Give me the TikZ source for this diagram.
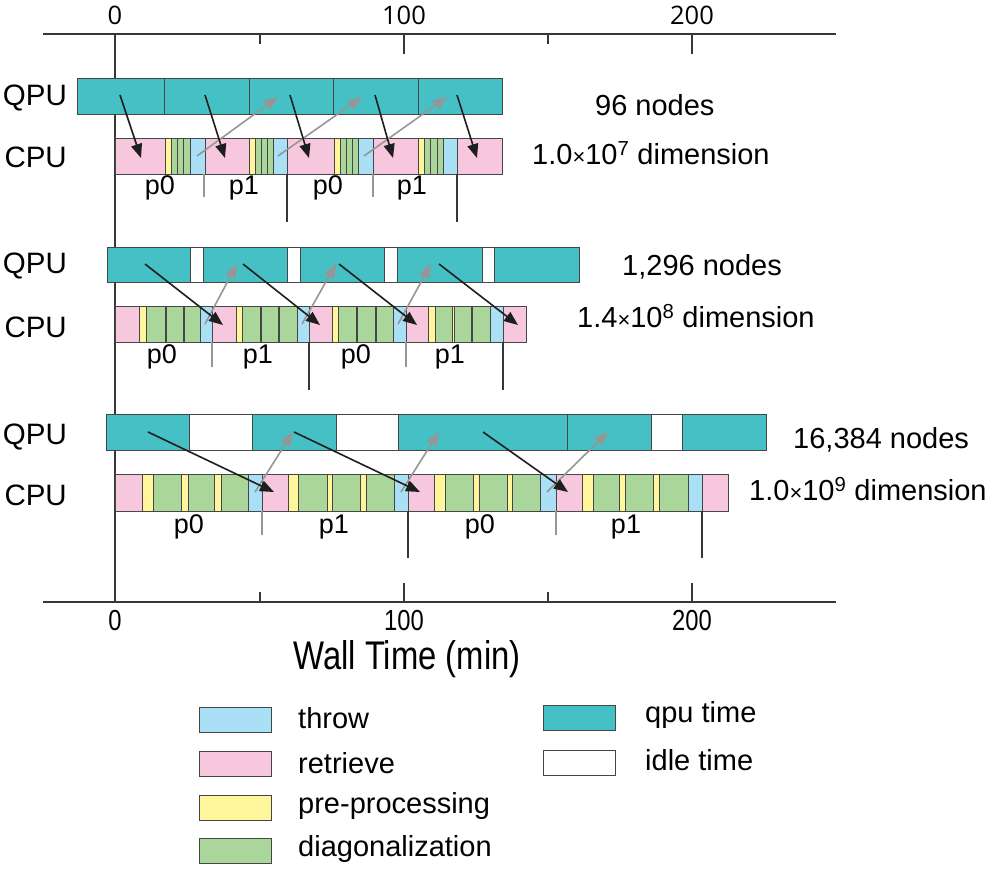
\documentclass[tikz,border=0pt]{standalone}
\usepackage{fontspec}
\setmainfont{Liberation Sans}
\newfontfamily\tickfont{Open Sans}
\newfontfamily\narrowfont[FakeStretch=0.82]{Liberation Sans}
\usetikzlibrary{arrows.meta}
\definecolor{cteal}{RGB}{69,193,198}
\definecolor{cpink}{RGB}{247,200,221}
\definecolor{cblue}{RGB}{170,224,246}
\definecolor{cyel}{RGB}{255,246,155}
\definecolor{cgreen}{RGB}{170,214,155}
\definecolor{cedge}{RGB}{70,70,70}
\definecolor{caxis}{RGB}{55,55,55}
\definecolor{cgray}{RGB}{150,150,150}
\definecolor{cblack}{RGB}{30,30,30}
\newcommand\RA[3]{\draw[#1] (#2,138) rectangle (#3,174);}
\newcommand\RB[3]{\draw[#1] (#2,306) rectangle (#3,342);}
\newcommand\RC[3]{\draw[#1] (#2,474) rectangle (#3,511);}
\newcommand\QA[3]{\draw[#1] (#2,78) rectangle (#3,114);}
\newcommand\QB[3]{\draw[#1] (#2,247) rectangle (#3,282);}
\newcommand\QC[3]{\draw[#1] (#2,414) rectangle (#3,450);}
\newcommand\lbl{\fontsize{27}{32}\selectfont}
\newcommand\tms{{\fontsize{22}{22}\selectfont ×}}
\begin{document}
\begin{tikzpicture}[x=1pt,y=-1pt,
  segthrow/.style={fill=cblue,draw=cedge,line width=1pt},
  segret/.style={fill=cpink,draw=cedge,line width=1pt},
  segpre/.style={fill=cyel,draw=cedge,line width=1pt},
  segdiag/.style={fill=cgreen,draw=cedge,line width=1pt},
  segqpu/.style={fill=cteal,draw=cedge,line width=1pt},
  segidle/.style={fill=white,draw=cedge,line width=1pt},
  axisline/.style={draw=caxis,line width=1.3pt},
  darrow/.style={draw=cblack,line width=1.6pt,-{Triangle[length=14pt,width=11pt]}},
  garrow/.style={draw=cgray,line width=1.6pt,-{Triangle[length=14pt,width=11pt]}},
  gdiv/.style={draw=cgray,line width=1.2pt},
  kdiv/.style={draw=caxis,line width=1.3pt},
  plabel/.style={font=\lbl,inner sep=0pt},
  rowlabel/.style={font=\fontsize{29.5}{34}\selectfont,anchor=east,inner sep=0pt},
  infolabel/.style={font=\fontsize{29}{33}\selectfont,anchor=west,inner sep=0pt},
  toptick/.style={font=\tickfont\fontsize{25.5}{30}\selectfont,inner sep=0pt},
  bottick/.style={font=\narrowfont\fontsize{29}{32}\selectfont,inner sep=0pt},
  legtext/.style={font=\fontsize{29}{33}\selectfont,anchor=west,inner sep=0pt},
]
\useasboundingbox (0,0) rectangle (997,870);

% ---------- axes ----------
\draw[axisline] (43,34) -- (836,34);
\draw[axisline] (43,602) -- (836,602);
\draw[axisline] (115,34) -- (115,602);
\foreach \x in {260,548} {\draw[axisline] (\x,34) -- (\x,44); \draw[axisline] (\x,602) -- (\x,592);}
\foreach \x in {404,692} {\draw[axisline] (\x,34) -- (\x,54); \draw[axisline] (\x,602) -- (\x,583);}
\node[toptick] (t0) at (115,15) {0};
\node[toptick] (t100) at (404,15) {100};
\node[toptick] (t200) at (692,15) {200};
\node[bottick] (b0) at (115,621) {0};
\node[bottick] (b100) at (404,621) {100};
\node[bottick] (b200) at (692,621) {200};
\node[font=\narrowfont\fontsize{40}{44}\selectfont,inner sep=0pt] (xlab) at (407,659) {Wall Time (min)};

% ---------- row 1 ----------
\node[rowlabel] (q1) at (67,98) {QPU};
\node[rowlabel] (c1) at (67,157) {CPU};
\QA{segqpu}{77}{164}\QA{segqpu}{164}{249}\QA{segqpu}{249}{333}\QA{segqpu}{333}{418}\QA{segqpu}{418}{502}
\RA{segret}{115}{165}\RA{segpre}{165}{171}\RA{segdiag}{171}{177}\RA{segdiag}{177}{183}\RA{segdiag}{183}{190}\RA{segthrow}{190}{205}
\RA{segret}{205}{249}\RA{segpre}{249}{255}\RA{segdiag}{255}{261}\RA{segdiag}{261}{267}\RA{segdiag}{267}{273}\RA{segthrow}{273}{287}
\RA{segret}{287}{334}\RA{segpre}{334}{340}\RA{segdiag}{340}{346}\RA{segdiag}{346}{352}\RA{segdiag}{352}{358}\RA{segthrow}{358}{373}
\RA{segret}{373}{418}\RA{segpre}{418}{424}\RA{segdiag}{424}{430}\RA{segdiag}{430}{437}\RA{segdiag}{437}{443}\RA{segthrow}{443}{457}
\RA{segret}{457}{502}
\draw[gdiv] (204,174) -- (204,197);
\draw[gdiv] (373,174) -- (373,197);
\draw[kdiv] (287,174) -- (287,222);
\draw[kdiv] (457,174) -- (457,222);
\node[plabel] (p1a) at (160,188) {p0};
\node[plabel] (p1b) at (244,188) {p1};
\node[plabel] (p1c) at (328,188) {p0};
\node[plabel] (p1d) at (412,188) {p1};
\draw[garrow] (197,156) -- (278,97);
\draw[garrow] (278,156) -- (362,97);
\draw[garrow] (364,156) -- (447,97);
\draw[darrow] (120,95) -- (141,158);
\draw[darrow] (205,95) -- (225,158);
\draw[darrow] (290,95) -- (309,158);
\draw[darrow] (375,95) -- (393,158);
\draw[darrow] (457,95) -- (477,158);
\node[infolabel] (n1) at (595,105) {96 nodes};
\node[infolabel] (d1) at (532,153) {1.0\tms10\textsuperscript{7} dimension};

% ---------- row 2 ----------
\node[rowlabel] (q2) at (67,266) {QPU};
\node[rowlabel] (c2) at (67,327) {CPU};
\QB{segqpu}{107}{190}\QB{segidle}{190}{203}\QB{segqpu}{203}{287}\QB{segidle}{287}{300}\QB{segqpu}{300}{384}
\QB{segidle}{384}{397}\QB{segqpu}{397}{482}\QB{segidle}{482}{494}\QB{segqpu}{494}{579}
\RB{segret}{115}{139}\RB{segpre}{139}{146}\RB{segdiag}{146}{165}\RB{segpre}{165}{166.5}\RB{segdiag}{166.5}{183}\RB{segpre}{183}{184.5}\RB{segdiag}{184.5}{200}\RB{segthrow}{200}{212}
\RB{segret}{212}{236}\RB{segpre}{236}{242}\RB{segdiag}{242}{260}\RB{segpre}{260}{261.5}\RB{segdiag}{261.5}{278}\RB{segpre}{278}{279.5}\RB{segdiag}{279.5}{297}\RB{segthrow}{297}{309}
\RB{segret}{309}{332}\RB{segpre}{332}{338}\RB{segdiag}{338}{356}\RB{segpre}{356}{357.5}\RB{segdiag}{357.5}{375}\RB{segpre}{375}{376.5}\RB{segdiag}{376.5}{393}\RB{segthrow}{393}{406}
\RB{segret}{406}{428}\RB{segpre}{428}{435}\RB{segdiag}{435}{452.5}\RB{segpre}{452.5}{454}\RB{segdiag}{454}{471}\RB{segpre}{471}{472.5}\RB{segdiag}{472.5}{490}\RB{segthrow}{490}{503}
\RB{segret}{503}{526}
\draw[gdiv] (212,342) -- (212,367);
\draw[gdiv] (406,342) -- (406,367);
\draw[kdiv] (309,342) -- (309,390);
\draw[kdiv] (503,342) -- (503,390);
\node[plabel] (p2a) at (162,357) {p0};
\node[plabel] (p2b) at (258,357) {p1};
\node[plabel] (p2c) at (356,357) {p0};
\node[plabel] (p2d) at (450,357) {p1};
\draw[garrow] (205,324) -- (237,264);
\draw[garrow] (302,324) -- (336,264);
\draw[garrow] (398,324) -- (431,264);
\draw[darrow] (145,264) -- (223,325);
\draw[darrow] (243,264) -- (320,325);
\draw[darrow] (339,264) -- (417,325);
\draw[darrow] (439,264) -- (518,325);
\node[infolabel] (n2) at (622,267) {1,296 nodes};
\node[infolabel] (d2) at (577,316) {1.4\tms10\textsuperscript{8} dimension};

% ---------- row 3 ----------
\node[rowlabel] (q3) at (67,437) {QPU};
\node[rowlabel] (c3) at (67,495) {CPU};
\QC{segqpu}{106}{189}\QC{segidle}{189}{252}\QC{segqpu}{252}{336}\QC{segidle}{336}{398}\QC{segqpu}{398}{567}
\QC{segqpu}{567}{651}\QC{segidle}{651}{682}\QC{segqpu}{682}{766}
\RC{segret}{115}{142}\RC{segpre}{142}{153}\RC{segdiag}{153}{181}\RC{segpre}{181}{188}\RC{segdiag}{188}{214}\RC{segpre}{214}{221}\RC{segdiag}{221}{248}\RC{segthrow}{248}{262}
\RC{segret}{262}{288}\RC{segpre}{288}{298}\RC{segdiag}{298}{327}\RC{segpre}{327}{332}\RC{segdiag}{332}{360}\RC{segpre}{360}{366}\RC{segdiag}{366}{394}\RC{segthrow}{394}{408}
\RC{segret}{408}{434}\RC{segpre}{434}{445}\RC{segdiag}{445}{473}\RC{segpre}{473}{479}\RC{segdiag}{479}{507}\RC{segpre}{507}{512}\RC{segdiag}{512}{540}\RC{segthrow}{540}{556}
\RC{segret}{556}{582}\RC{segpre}{582}{593}\RC{segdiag}{593}{619}\RC{segpre}{619}{625}\RC{segdiag}{625}{653}\RC{segpre}{653}{659}\RC{segdiag}{659}{688}\RC{segthrow}{688}{702}
\RC{segret}{702}{728}
\draw[gdiv] (262,511) -- (262,535);
\draw[gdiv] (556,511) -- (556,535);
\draw[kdiv] (408,511) -- (408,558);
\draw[kdiv] (702,511) -- (702,558);
\node[plabel] (p3a) at (189,527) {p0};
\node[plabel] (p3b) at (334,527) {p1};
\node[plabel] (p3c) at (480,527) {p0};
\node[plabel] (p3d) at (626,527) {p1};
\draw[garrow] (255,492) -- (293,432);
\draw[garrow] (401,492) -- (439,432);
\draw[garrow] (547,492) -- (608,432);
\draw[darrow] (148,432) -- (274,492);
\draw[darrow] (294,432) -- (420,492);
\draw[darrow] (483,432) -- (568,492);
\node[infolabel] (n3) at (793,440) {16,384 nodes};
\node[infolabel] (d3) at (749,489) {1.0\tms10\textsuperscript{9} dimension};

% ---------- legend ----------
\draw[segthrow] (199,707) rectangle (271,732);
\draw[segret] (199,751) rectangle (271,776);
\draw[segpre] (199,795) rectangle (271,820);
\draw[segdiag] (199,838) rectangle (271,863);
\draw[segqpu] (543,705) rectangle (615,730);
\draw[segidle] (543,750) rectangle (615,775);
\node[legtext] (lt) at (298,718) {throw};
\node[legtext] (lr) at (298,763) {retrieve};
\node[legtext] (lp) at (298,806) {pre-processing};
\node[legtext] (ld) at (298,849) {diagonalization};
\node[legtext] (lq) at (645,715) {qpu time};
\node[legtext] (li) at (645,760) {idle time};
\end{tikzpicture}
\end{document}
